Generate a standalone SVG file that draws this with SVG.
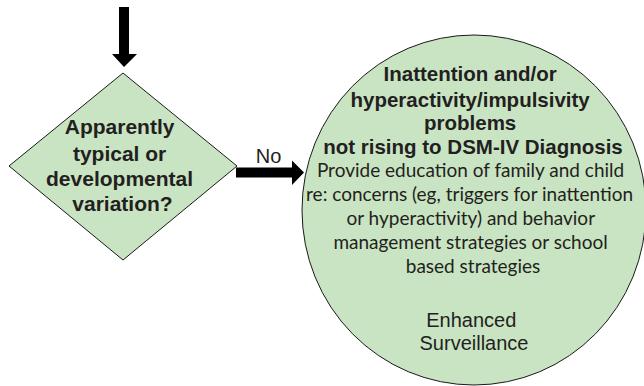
<svg xmlns="http://www.w3.org/2000/svg" width="644" height="386" viewBox="0 0 644 386">
  <style>
    .shape { fill: #c9e4c2; stroke: #1a1a1a; stroke-width: 1; }
    .arrow { fill: #000; stroke: none; }
    .b { font-family: "Liberation Sans", Arial, sans-serif; font-weight: bold; fill: #231f20; text-anchor: middle; }
    .r { font-family: "Liberation Sans", Arial, sans-serif; fill: #231f20; text-anchor: middle; }
    .c { font-family: Lato, "Open Sans", sans-serif; fill: #231f20; text-anchor: middle; }
  </style>
  <rect width="644" height="386" fill="#ffffff"/>
  <g id="connectors">
    <polygon class="arrow" points="119,7 129,7 129,54 137,54 124,67 112,54 119,54"/>
    <polygon class="arrow" points="236,167.5 292,167.5 292,160.5 304,172.5 292,185 292,177.5 236,177.5"/>
    <text class="r" x="268.5" y="163" font-size="20">No</text>
  </g>
  <g id="decision">
    <polygon class="shape" points="123,73 237,166 123,260 9,166"/>
    <text class="b" font-size="21" x="122.5">
      <tspan x="122.5" y="134">Apparently</tspan>
      <tspan x="122.5" y="161">typical or</tspan>
      <tspan x="122.5" y="186">developmental</tspan>
      <tspan x="122.5" y="211">variation?</tspan>
    </text>
  </g>
  <g id="outcome">
    <ellipse class="shape" cx="474" cy="210" rx="172" ry="175"/>
    <text class="b" font-size="20.5">
      <tspan x="473" y="80.5">Inattention and/or</tspan>
      <tspan x="473" y="106.5">hyperactivity/impulsivity</tspan>
      <tspan x="473" y="130">problems</tspan>
      <tspan x="473" y="153.5">not rising to DSM-IV Diagnosis</tspan>
    </text>
    <text class="c" font-size="19">
      <tspan x="473" y="177">Provide education of family and child</tspan>
      <tspan x="472" y="200.5">re: concerns (eg, triggers for inattention</tspan>
      <tspan x="473" y="224.5">or hyperactivity) and behavior</tspan>
      <tspan x="473" y="248.5">management strategies or school</tspan>
      <tspan x="473" y="272.5">based strategies</tspan>
    </text>
    <text class="r" font-size="20">
      <tspan x="474" y="327">Enhanced</tspan>
      <tspan x="474" y="350">Surveillance</tspan>
    </text>
  </g>
</svg>
